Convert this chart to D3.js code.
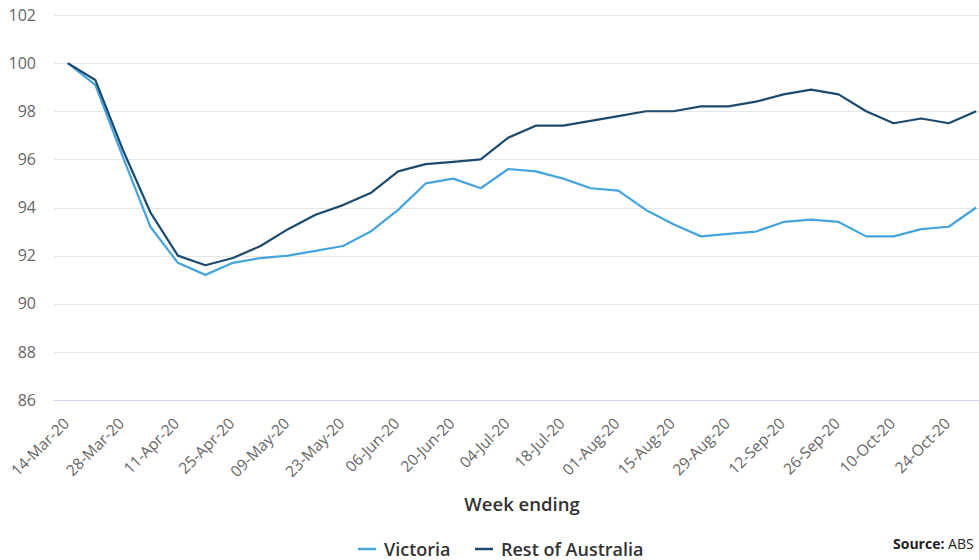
<!DOCTYPE html>
<html>
<head>
<meta charset="utf-8">
<script src="https://cdn.jsdelivr.net/npm/d3@7"></script>
<style>
  body { margin: 0; background: #fff; }
  svg { display: block; font-family: "Open Sans", sans-serif; }
</style>
</head>
<body>
<div id="chart"></div>
<script>
// week ending dates
const weeks = ["14-Mar-20", "21-Mar-20", "28-Mar-20", "04-Apr-20", "11-Apr-20", "18-Apr-20", "25-Apr-20",
    "02-May-20", "09-May-20", "16-May-20", "23-May-20", "30-May-20", "06-Jun-20", "13-Jun-20", "20-Jun-20",
    "27-Jun-20", "04-Jul-20", "11-Jul-20", "18-Jul-20", "25-Jul-20", "01-Aug-20", "08-Aug-20", "15-Aug-20",
    "22-Aug-20", "29-Aug-20", "05-Sep-20", "12-Sep-20", "19-Sep-20", "26-Sep-20", "03-Oct-20", "10-Oct-20",
    "17-Oct-20", "24-Oct-20", "31-Oct-20"];

const victoria = [100, 99.1, 96.1, 93.2, 91.7, 91.2, 91.7, 91.9, 92.0, 92.2, 92.4, 93.0, 93.9, 95.0, 95.2,
    94.8, 95.6, 95.5, 95.2, 94.8, 94.7, 93.9, 93.3, 92.8, 92.9, 93.0, 93.4, 93.5, 93.4, 92.8, 92.8,
    93.1, 93.2, 94.0];

const restOfAustralia = [100, 99.3, 96.4, 93.8, 92.0, 91.6, 91.9, 92.4, 93.1, 93.7, 94.1, 94.6, 95.5, 95.8, 95.9,
    96.0, 96.9, 97.4, 97.4, 97.6, 97.8, 98.0, 98.0, 98.2, 98.2, 98.4, 98.7, 98.9, 98.7, 98.0, 97.5,
    97.7, 97.5, 98.0];

const yTicks = [86, 88, 90, 92, 94, 96, 98, 100, 102];

const series = [
    { name: "Victoria", values: victoria, color: "#45a4dc" },
    { name: "Rest of Australia", values: restOfAustralia, color: "#1c4a6e" }
];

const width = 979, height = 560;
const plotLeft = 54, plotRight = 990, plotTop = 15, plotBottom = 400;

const svg = d3.select("#chart").append("svg")
    .attr("width", width)
    .attr("height", height);

const x = d3.scalePoint()
    .domain(weeks)
    .range([plotLeft, plotRight])
    .padding(0.5);

const y = d3.scaleLinear()
    .domain([86, 102])
    .range([plotBottom, plotTop]);

// horizontal grid lines
svg.append("g")
    .selectAll("line")
    .data(yTicks.filter(d => d !== 86))
    .join("line")
    .attr("x1", plotLeft)
    .attr("x2", plotRight)
    .attr("y1", d => Math.round(y(d)) + 0.5)
    .attr("y2", d => Math.round(y(d)) + 0.5)
    .attr("stroke", "#e6e6e6")
    .attr("stroke-width", 1);

// y axis labels
const yAxis = svg.append("g")
    .attr("transform", `translate(${plotLeft - 18},0)`)
    .call(d3.axisLeft(y).tickValues(yTicks).tickSize(0).tickPadding(0));
yAxis.select(".domain").remove();
yAxis.selectAll("text")
    .attr("fill", "#666")
    .attr("font-size", "16px")
    .attr("font-family", "Open Sans, sans-serif");

// x axis
const xAxis = svg.append("g")
    .attr("transform", `translate(0,${Math.round(plotBottom) + 0.5})`)
    .call(d3.axisBottom(x).tickValues(weeks.filter((d, i) => i % 2 === 0)).tickSize(0).tickPadding(0));
xAxis.select(".domain")
    .attr("stroke", "#ccd6eb")
    .attr("d", `M${plotLeft},0H${plotRight}`);
xAxis.selectAll("text")
    .attr("fill", "#666")
    .attr("font-size", "15.5px")
    .attr("font-family", "Open Sans, sans-serif")
    .attr("dy", null)
    .attr("y", 0)
    .attr("text-anchor", "end")
    .attr("transform", "translate(2,24) rotate(-45)");

// lines
const line = d3.line()
    .x((d, i) => x(weeks[i]))
    .y(d => y(d));

svg.append("g")
    .selectAll("path")
    .data(series)
    .join("path")
    .attr("fill", "none")
    .attr("stroke", d => d.color)
    .attr("stroke-width", 2.2)
    .attr("stroke-linejoin", "round")
    .attr("d", d => line(d.values));

// axis title
svg.append("text")
    .attr("x", 522)
    .attr("y", 511)
    .attr("text-anchor", "middle")
    .attr("fill", "#333")
    .attr("font-size", "18.5px")
    .attr("font-weight", 600)
    .text("Week ending");

// legend
const legendX = [358, 475];
const legend = svg.append("g")
    .attr("transform", "translate(0,549)");
const items = legend.selectAll("g")
    .data(series)
    .join("g")
    .attr("transform", (d, i) => `translate(${legendX[i]},0)`);
items.append("line")
    .attr("x1", 0).attr("x2", 18)
    .attr("y1", 0).attr("y2", 0)
    .attr("stroke", d => d.color)
    .attr("stroke-width", 2.5);
items.append("text")
    .attr("x", 26)
    .attr("y", 6.5)
    .attr("fill", "#333")
    .attr("font-size", "18px")
    .attr("font-weight", 600)
    .text(d => d.name);

// source credit
const source = svg.append("text")
    .attr("x", 893)
    .attr("y", 549)
    .attr("fill", "#222")
    .attr("font-size", "14px");
source.append("tspan").attr("font-weight", "bold").text("Source:");
source.append("tspan").text(" ABS");
</script>
</body>
</html>
